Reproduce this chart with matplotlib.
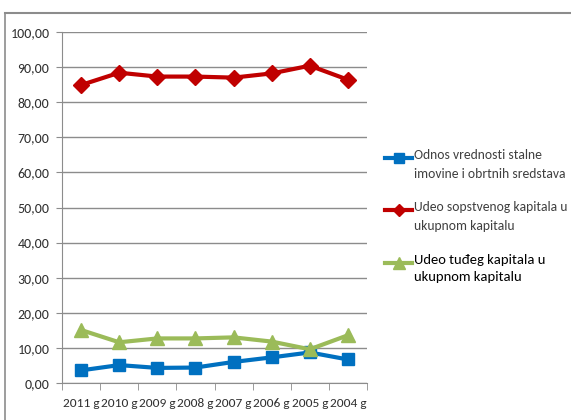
import matplotlib.pyplot as plt
from matplotlib.lines import Line2D
from matplotlib.ticker import FuncFormatter

years = ['2011 g', '2010 g', '2009 g', '2008 g', '2007 g', '2006 g', '2005 g', '2004 g']
odnos = [3.6, 5.1, 4.3, 4.4, 6.0, 7.3, 8.7, 6.7]
sopstveni = [84.9, 88.4, 87.3, 87.3, 87.0, 88.2, 90.4, 86.4]
tudji = [15.1, 11.6, 12.7, 12.7, 13.0, 11.8, 9.6, 13.6]

labels = ['Odnos vrednosti stalne\nimovine i obrtnih sredstava',
          'Udeo sopstvenog kapitala u\nukupnom kapitalu',
          'Udeo tuđeg kapitala u\nukupnom kapitalu']
colors = ['#0070C0', '#C00000', '#9BBB59']
markers = ['s', 'D', '^']

plt.rcParams['font.family'] = ['Carlito', 'DejaVu Sans']

W, H = 571, 420
fig = plt.figure(figsize=(W / 100, H / 100), dpi=100)
ax = fig.add_axes([62 / W, 1 - 383 / H, 305 / W, 351 / H])

x = range(len(years))
ax.plot(x, odnos, color=colors[0], lw=3, marker='s', ms=9)
ax.plot(x, sopstveni, color=colors[1], lw=3, marker='D', ms=8)
ax.plot(x, tudji, color=colors[2], lw=3, marker='^', ms=9.5)

ax.set_ylim(0, 100)
ax.set_yticks(range(0, 101, 10))
ax.yaxis.set_major_formatter(FuncFormatter(lambda v, p: f'{v:.2f}'.replace('.', ',')))
ax.set_xlim(-0.5, len(years) - 0.5)
ax.set_xticks(list(x))
ax.set_xticklabels(years)
ax.set_xticks([i - 0.5 for i in range(len(years) + 1)], minor=True)
ax.tick_params(axis='x', which='major', length=0, pad=11, labelsize=9.6, colors='#303030')
ax.tick_params(axis='x', which='minor', length=5, color='#8c8c8c')
ax.tick_params(axis='y', length=4, color='#8c8c8c', labelsize=10, colors='#303030', pad=5)
ax.grid(axis='y', color='#8c8c8c', lw=1)
ax.set_axisbelow(True)
for s in ['top', 'right']:
    ax.spines[s].set_visible(False)
ax.spines['left'].set_color('#8c8c8c')
ax.spines['bottom'].set_color('#8c8c8c')

# legend drawn by hand: handle sits on the first text line
leg_y = [158, 210, 263]
leg_size = [9.8, 9.8, 10.5]
leg_col = ['#404040', '#404040', 'black']
leg_ls = [1.7, 1.7, 1.5]
for i in range(3):
    y = 1 - leg_y[i] / H
    fig.add_artist(Line2D([385 / W, 412 / W], [y, y], color=colors[i], lw=3))
    fig.add_artist(Line2D([398.5 / W], [y], color=colors[i], marker=markers[i],
                          ms=[7, 6, 8][i], lw=0))
    fig.text(414 / W, y + 9 / H, labels[i], fontsize=leg_size[i], color=leg_col[i],
             va='top', ha='left', linespacing=leg_ls[i])

fig.add_artist(Line2D([5 / W, 5 / W], [0, 1 - 13 / H], color='#8c8c8c', lw=1.2))
fig.add_artist(Line2D([5 / W, 1], [1 - 13 / H, 1 - 13 / H], color='#8c8c8c', lw=1.5))

fig.savefig('out.png', dpi=100)
